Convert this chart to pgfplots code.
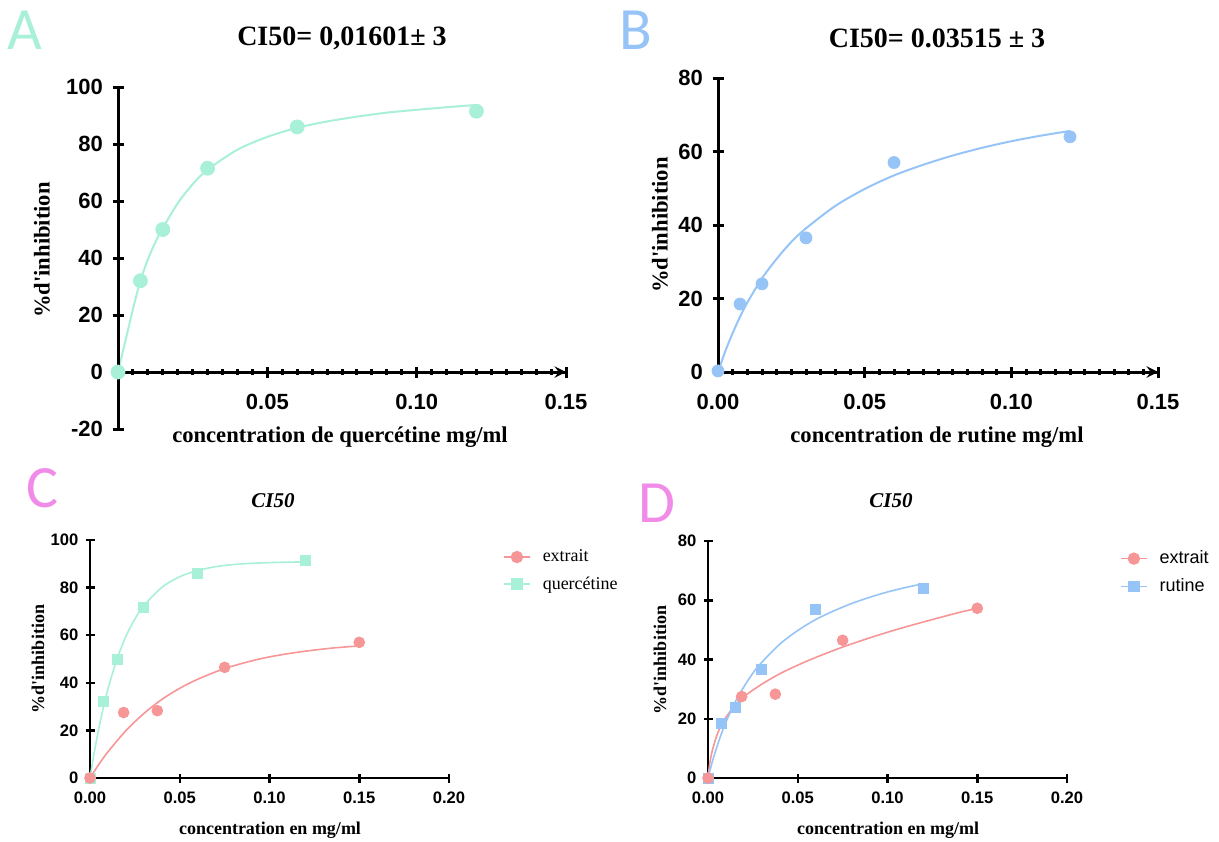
\documentclass[border=0pt]{standalone}
\usepackage{fontspec}
\setmainfont{Liberation Serif}
\setsansfont{Liberation Sans}
\newfontfamily\letterfont{Carlito}
\newfontfamily\labfont{Liberation Serif}[Ligatures=TeXOff]
\usepackage{pgfplots}
\pgfplotsset{compat=1.18}

\definecolor{mint}{RGB}{168,240,216}
\definecolor{skyb}{RGB}{150,196,246}
\definecolor{salmon}{RGB}{246,150,150}
\definecolor{orchid}{RGB}{240,140,232}

\def\px{0.5pt}

\pgfplotsset{
  prism/.style={
    scale only axis, clip=false,
    tick align=outside,
    major tick length=5.5pt,
    major tick style={line width=1.5pt, black},
    tick label style={font=\sffamily\bfseries\fontsize{11}{11}\selectfont},
  },
  noarrows/.style={axis line style={-, line width=#1}},
  % panels A and B: a short tick every 0.005, labels every 0.05
  fineticks/.style={
    xtick={0,0.005,...,0.1501},
    major tick length=3pt,
    xticklabel style={yshift=-6pt},
    yticklabel style={xshift=-2.5pt},
  },
  % long ticks every 0.05 and on y, drawn by an empty axis on top
  longticks/.style={
    prism, axis y line=left, noarrows=1.5pt,
    xmin=0, xmax=0.15,
    xtick={0.05,0.1,0.15}, xticklabels={}, yticklabels={},
  },
  small/.style={
    prism,
    major tick length=4.5pt,
    major tick style={line width=1.25pt, black},
    tick label style={font=\sffamily\bfseries\fontsize{8.3}{8.3}\selectfont},
    xticklabel style={yshift=-1pt},
    axis x line=bottom, axis y line=left,
    noarrows=1.25pt,
    xmin=0, xmax=0.2,
    xtick={0,0.05,0.1,0.15,0.2},
    xticklabels={0.00,0.05,0.10,0.15,0.20},
    legend cell align={left},
    legend image code/.code={\draw[mark repeat=2,mark phase=2,#1]
      plot coordinates {(0pt,0pt)(6.5pt,0pt)(13pt,0pt)};},
  },
}

\begin{document}
\begin{tikzpicture}
\path[use as bounding box] (0,0) rectangle (1219*\px,-841*\px);

% ---------------- A: quercetine
\begin{axis}[prism, at={(118*\px,-429*\px)}, anchor=south west,
    width=448*\px, height=342*\px,
    axis x line=middle, axis y line=left, noarrows=1.5pt,
    xmin=0, xmax=0.15, ymin=-20, ymax=100,
    fineticks,
    xticklabels={,,,,,,,,,,0.05,,,,,,,,,,0.10,,,,,,,,,,0.15},
    ytick={-20,0,20,40,60,80,100},
    yticklabels={-20,0,20,40,60,80,100}]
\addplot[mint, line width=1pt, smooth] coordinates {
  (0,0) (0.0025,11) (0.005,22) (0.0075,32) (0.01,39.5)
  (0.0125,45.5) (0.015,50.5) (0.02,59.2) (0.025,65.9) (0.03,71)
  (0.04,78) (0.05,82.5) (0.06,85.7) (0.07,87.9) (0.08,89.6)
  (0.09,91) (0.1,92) (0.11,92.9) (0.12,93.7)};
\end{axis}
\begin{axis}[longticks, at={(118*\px,-429*\px)}, anchor=south west,
    width=448*\px, height=342*\px,
    axis x line=middle, ymin=-20, ymax=100,
    ytick={-20,0,20,40,60,80,100}]
\addplot[only marks, mark=*, mark size=3.5pt, color=mint] coordinates {
  (0,0) (0.0075,32) (0.015,50) (0.03,71.5) (0.06,86) (0.12,91.5)};
\end{axis}

% ---------------- B: rutine
\begin{axis}[prism, at={(718*\px,-372*\px)}, anchor=south west,
    width=440*\px, height=294*\px,
    axis x line=bottom, axis y line=left, noarrows=1.5pt,
    xmin=0, xmax=0.15, ymin=0, ymax=80,
    fineticks,
    xticklabels={0.00,,,,,,,,,,0.05,,,,,,,,,,0.10,,,,,,,,,,0.15},
    ytick={0,20,40,60,80}, yticklabels={0,20,40,60,80}]
\addplot[skyb, line width=1pt, smooth] coordinates {
  (0,0) (0.0025,5.7) (0.005,10.6) (0.0075,15) (0.01,18.9) (0.015,25.5)
  (0.02,30.8) (0.025,35.4) (0.03,39.1) (0.04,45.2) (0.05,49.8)
  (0.06,53.5) (0.07,56.4) (0.08,58.9) (0.09,61) (0.1,62.8)
  (0.11,64.3) (0.12,65.6)};
\end{axis}
\begin{axis}[longticks, at={(718*\px,-372*\px)}, anchor=south west,
    width=440*\px, height=294*\px,
    axis x line=bottom, ymin=0, ymax=80,
    ytick={0,20,40,60,80}]
\addplot[only marks, mark=*, mark size=3pt, color=skyb] coordinates {
  (0,0.3) (0.0075,18.5) (0.015,24) (0.03,36.5) (0.06,57) (0.12,64)};
\end{axis}

% ---------------- C: extrait vs quercetine
\begin{axis}[small, at={(90*\px,-778*\px)}, anchor=south west,
    width=359*\px, height=238*\px,
    ymin=0, ymax=100,
    ytick={0,20,40,60,80,100}, yticklabels={0,20,40,60,80,100},
    legend style={at={(axis description cs:1.133,0.995)}, anchor=north west,
      draw=none, fill=none, row sep=2pt,
      font=\rmfamily\fontsize{9}{9}\selectfont,
      /tikz/every odd column/.append style={column sep=4pt}}]
\addlegendimage{salmon, line width=0.8pt, mark=*, mark size=2.7pt}
\addlegendentry{extrait}
\addlegendimage{mint, line width=0.8pt, mark=square*, mark size=2.5pt}
\addlegendentry{quercétine}
\addplot[forget plot, salmon, line width=0.8pt, smooth] coordinates {
  (0,0) (0.005,5.8) (0.01,11) (0.02,19.9) (0.03,27.1) (0.04,33)
  (0.05,37.7) (0.06,41.5) (0.075,46) (0.09,49.2) (0.1,50.9)
  (0.11,52.2) (0.12,53.3) (0.135,54.6) (0.15,55.5)};
\addplot[forget plot, mint, line width=0.8pt, smooth] coordinates {
  (0,0) (0.0025,11.3) (0.005,21.2) (0.0075,29.8) (0.01,37.4)
  (0.015,49.9) (0.02,59.5) (0.025,66.8) (0.03,72.4) (0.04,80.1)
  (0.05,84.6) (0.06,87.2) (0.07,88.8) (0.08,89.7) (0.09,90.2)
  (0.1,90.5) (0.11,90.7) (0.12,90.8)};
\addplot[forget plot, only marks, mark=square*, mark size=2.5pt, color=mint]
  coordinates {(0,0) (0.0075,32) (0.015,50) (0.03,71.5) (0.06,86) (0.12,91.5)};
\addplot[forget plot, only marks, mark=*, mark size=2.7pt, color=salmon]
  coordinates {(0,0) (0.01875,27.5) (0.0375,28.3) (0.075,46.5) (0.15,57)};
\end{axis}

% ---------------- D: extrait vs rutine
\begin{axis}[small, at={(708*\px,-778*\px)}, anchor=south west,
    width=359*\px, height=237*\px,
    ymin=0, ymax=80,
    ytick={0,20,40,60,80}, yticklabels={0,20,40,60,80},
    legend style={at={(axis description cs:1.130,0.995)}, anchor=north west,
      draw=none, fill=none, row sep=2pt,
      font=\sffamily\fontsize{9}{9}\selectfont,
      /tikz/every odd column/.append style={column sep=4pt}}]
\addlegendimage{salmon, line width=0.8pt, mark=*, mark size=2.7pt}
\addlegendentry{extrait}
\addlegendimage{skyb, line width=0.8pt, mark=square*, mark size=2.5pt}
\addlegendentry{rutine}
\addplot[forget plot, salmon, line width=0.8pt, smooth] coordinates {
  (0,0) (0.001,5) (0.0025,9.5) (0.005,14.5) (0.0075,18) (0.01,20.5)
  (0.015,24.5) (0.02,27.5) (0.03,31.7) (0.04,35.2) (0.05,38.1)
  (0.06,40.7) (0.075,44.2) (0.09,47.3) (0.1,49.2) (0.11,51)
  (0.125,53.5) (0.14,55.9) (0.15,57.3)};
\addplot[forget plot, skyb, line width=0.8pt, smooth] coordinates {
  (0,0) (0.0025,5.7) (0.005,10.6) (0.0075,15) (0.01,18.9) (0.015,25.5)
  (0.02,30.8) (0.025,35.4) (0.03,39.1) (0.04,45.2) (0.05,49.8)
  (0.06,53.5) (0.07,56.4) (0.08,58.9) (0.09,61) (0.1,62.8)
  (0.11,64.3) (0.12,65.6)};
\addplot[forget plot, only marks, mark=square*, mark size=2.5pt, color=skyb]
  coordinates {(0,0) (0.0075,18.5) (0.015,24) (0.03,36.5) (0.06,57) (0.12,64)};
\addplot[forget plot, only marks, mark=*, mark size=2.7pt, color=salmon]
  coordinates {(0,0) (0.01875,27.5) (0.0375,28.3) (0.075,46.5) (0.15,57.3)};
\end{axis}

% ---------------- titles, labels, panel letters
\begin{scope}[every node/.style={inner sep=0pt}]
\node[font=\bfseries\fontsize{14}{14}\selectfont] at (342*\px,-38*\px) {CI50= 0,01601± 3};
\node[font=\bfseries\fontsize{14}{14}\selectfont] at (937*\px,-38*\px) {CI50= 0.03515 ± 3};
\node[font=\bfseries\itshape\fontsize{10.5}{10.5}\selectfont] at (273*\px,-501*\px) {CI50};
\node[font=\bfseries\itshape\fontsize{10.5}{10.5}\selectfont] at (891*\px,-501*\px) {CI50};

\node[font=\bfseries\fontsize{11.3}{11.3}\selectfont] at (340*\px,-437*\px) {concentration de quercétine mg/ml};
\node[font=\bfseries\fontsize{11.3}{11.3}\selectfont] at (937*\px,-437*\px) {concentration de rutine mg/ml};
\node[font=\bfseries\fontsize{9}{9}\selectfont] at (270*\px,-830*\px) {concentration en mg/ml};
\node[font=\bfseries\fontsize{9}{9}\selectfont] at (888*\px,-830*\px) {concentration en mg/ml};

\node[rotate=90, font=\labfont\bfseries\fontsize{11.3}{11.3}\selectfont] at (42*\px,-250*\px) {\%d'inhibition};
\node[rotate=90, font=\labfont\bfseries\fontsize{11.3}{11.3}\selectfont] at (660*\px,-225*\px) {\%d'inhibition};
\node[rotate=90, font=\labfont\bfseries\fontsize{9}{9}\selectfont] at (38*\px,-659*\px) {\%d'inhibition};
\node[rotate=90, font=\labfont\bfseries\fontsize{9}{9}\selectfont] at (660*\px,-660*\px) {\%d'inhibition};

\node[anchor=base west, text=mint, font=\letterfont\fontsize{30}{30}\selectfont] at (7*\px,-49*\px) {A};
\node[anchor=base west, text=skyb, font=\letterfont\fontsize{30}{30}\selectfont] at (619*\px,-49*\px) {B};
\node[anchor=base west, text=orchid, font=\letterfont\fontsize{30}{30}\selectfont] at (26*\px,-507*\px) {C};
\node[anchor=base west, text=orchid, font=\letterfont\fontsize{30}{30}\selectfont] at (638*\px,-522*\px) {D};
\end{scope}
\end{tikzpicture}
\end{document}
